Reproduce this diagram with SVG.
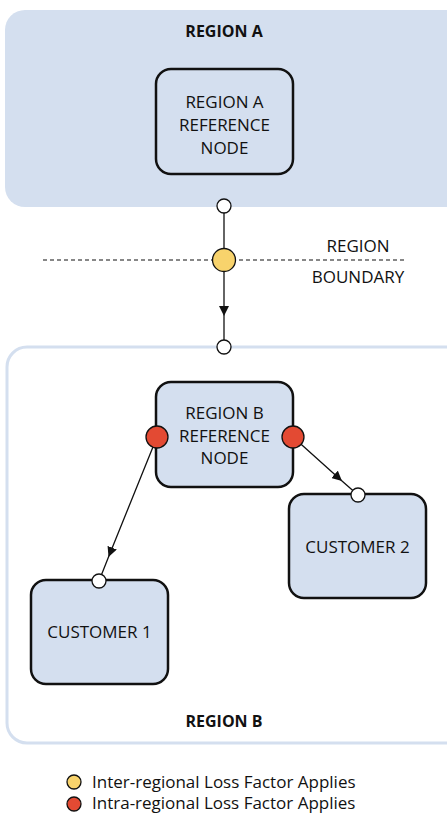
<svg xmlns="http://www.w3.org/2000/svg" width="447" height="813" viewBox="0 0 447 813">
<style>
.t{font-family:"Open Sans","Noto Sans",sans-serif;font-size:17px;fill:#111;text-anchor:middle}
.b{font-weight:bold;font-size:16px}
.node{fill:#D4DFEF;stroke:#111;stroke-width:2.5}
.port{fill:#fff;stroke:#111;stroke-width:1.3}
.red{fill:#E34A33;stroke:#111;stroke-width:1.3}
.yel{fill:#F8D36C;stroke:#111;stroke-width:1.3}
.con{stroke:#111;stroke-width:1.3;fill:none;marker-mid:url(#arr)}
</style>
<defs>
<marker id="arr" viewBox="0 0 10 10" refX="10" refY="5" markerWidth="10" markerHeight="10" markerUnits="userSpaceOnUse" orient="auto">
<path d="M0,0 L10,5 L0,10 Z" fill="#111"/>
</marker>
</defs>
<g id="regionA">
<rect x="5" y="10" width="460" height="197" rx="20" fill="#D4DFEF"/>
<text class="t b" x="224" y="37">REGION A</text>
</g>
<g id="regionB">
<rect x="7" y="347" width="460" height="396" rx="20" fill="#fff" stroke="#D4DFEF" stroke-width="3"/>
<text class="t b" x="224" y="727">REGION B</text>
</g>
<g id="boundary">
<line x1="43" y1="260" x2="407" y2="260" stroke="#111" stroke-width="1.2" stroke-dasharray="4,3"/>
<text class="t" x="358" y="252" font-size="15.5">REGION</text>
<text class="t" x="358" y="283" font-size="15.5">BOUNDARY</text>
</g>
<g id="connectors">
<line x1="224" y1="206" x2="224" y2="260" stroke="#111" stroke-width="1.3"/>
<polyline class="con" points="224,260 224,316 224,347"/>
<polyline class="con" points="157,437 108.5,557 99,581"/>
<polyline class="con" points="293,437 342,481 358,495"/>
</g>
<g id="nodeA">
<rect class="node" x="156" y="69" width="137" height="105" rx="15"/>
<text class="t" x="224.5" y="108">REGION A</text>
<text class="t" x="224.5" y="131">REFERENCE</text>
<text class="t" x="224.5" y="154">NODE</text>
</g>
<g id="nodeB">
<rect class="node" x="156" y="382" width="137" height="105" rx="15"/>
<text class="t" x="224.5" y="419">REGION B</text>
<text class="t" x="224.5" y="442">REFERENCE</text>
<text class="t" x="224.5" y="464">NODE</text>
</g>
<g id="customer2">
<rect class="node" x="289" y="494" width="137" height="104" rx="15"/>
<text class="t" x="357.5" y="553">CUSTOMER 2</text>
</g>
<g id="customer1">
<rect class="node" x="31" y="580" width="137" height="104" rx="15"/>
<text class="t" x="99.5" y="638">CUSTOMER 1</text>
</g>
<g id="points">
<circle class="port" cx="224" cy="206" r="7"/>
<circle class="yel" cx="224" cy="260" r="11.5"/>
<circle class="port" cx="224" cy="347" r="7"/>
<circle class="red" cx="157" cy="437" r="11"/>
<circle class="red" cx="293" cy="437" r="11"/>
<circle class="port" cx="358" cy="495" r="7"/>
<circle class="port" cx="99" cy="581" r="7"/>
</g>
<g id="legend">
<circle class="yel" cx="74" cy="782" r="7"/>
<text class="t" x="92" y="788" style="text-anchor:start;font-size:17px">Inter-regional Loss Factor Applies</text>
<circle class="red" cx="74" cy="804" r="7"/>
<text class="t" x="92" y="809" style="text-anchor:start;font-size:17px">Intra-regional Loss Factor Applies</text>
</g>
</svg>
